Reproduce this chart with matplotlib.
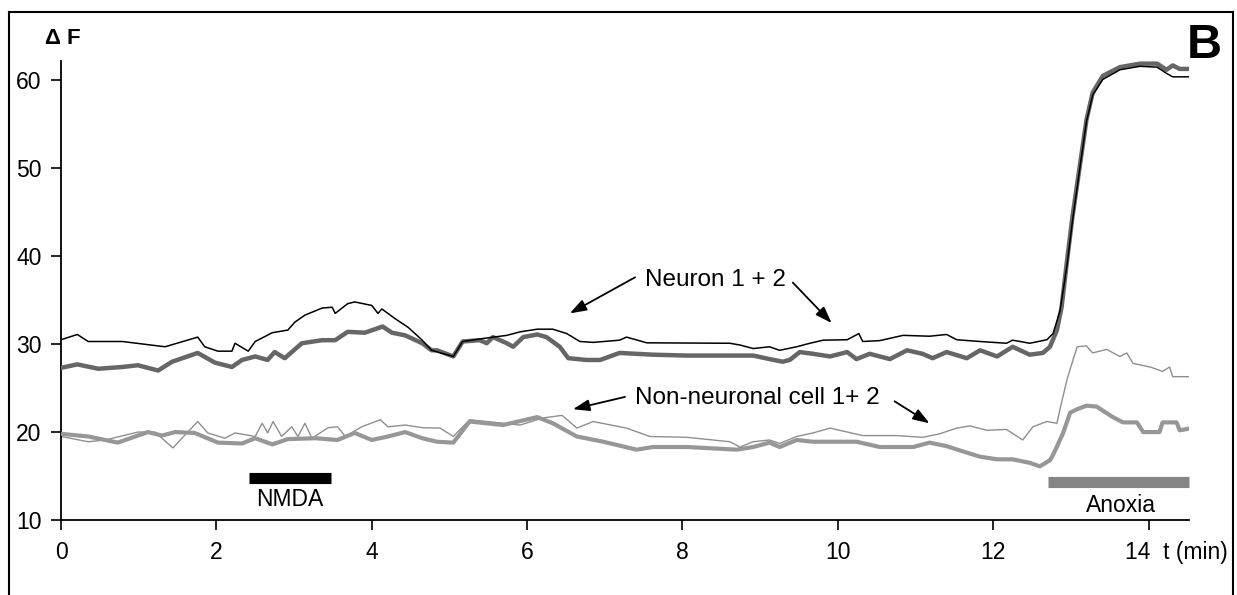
import matplotlib
matplotlib.use("Agg")
import matplotlib.pyplot as plt
from matplotlib.lines import Line2D
from matplotlib.transforms import blended_transform_factory

plt.rcParams['font.family'] = ['Liberation Sans', 'DejaVu Sans']

# ---------------- data ----------------
n1_t = [0, 0.21, 0.35, 0.79, 1.34, 1.76, 1.85, 2.02, 2.20, 2.24, 2.41, 2.50, 2.72, 2.92,
        3.01, 3.14, 3.36, 3.49, 3.53, 3.69, 3.78, 4.00, 4.08, 4.13, 4.30, 4.47, 4.65, 4.77,
        5.05, 5.17, 5.48, 5.74, 5.91, 6.13, 6.33, 6.51, 6.68, 6.85, 7.19, 7.28, 7.54, 8.61,
        8.74, 8.91, 9.12, 9.25, 9.47, 9.64, 9.81, 10.12, 10.27, 10.32, 10.54, 10.84, 11.18,
        11.40, 11.53, 11.83, 12.17, 12.25, 12.47, 12.69, 12.77, 12.86, 12.95, 13.02, 13.11,
        13.20, 13.28, 13.41, 13.63, 13.89, 14.11, 14.23, 14.31, 14.53]
n1_v = [30.5, 31.1, 30.3, 30.3, 29.7, 30.8, 29.7, 29.2, 29.2, 30.1, 29.2, 30.3, 31.3, 31.6,
        32.5, 33.3, 34.1, 34.2, 33.5, 34.6, 34.8, 34.4, 33.5, 34.0, 32.9, 31.9, 30.45, 29.3,
        28.6, 30.3, 30.7, 31.0, 31.4, 31.7, 31.7, 31.2, 30.3, 30.2, 30.45, 30.8, 30.15, 30.1,
        29.9, 29.5, 29.7, 29.3, 29.7, 30.1, 30.45, 30.5, 31.2, 30.3, 30.4, 31.0, 30.9,
        31.1, 30.5, 30.3, 30.1, 30.45, 30.1, 30.5, 31.2, 33.8, 39.0, 44.0, 49.7,
        55.3, 58.3, 60.1, 61.2, 61.6, 61.5, 60.8, 60.4, 60.4]

n2_t = [0, 0.21, 0.48, 0.79, 0.99, 1.25, 1.43, 1.76, 1.98, 2.20, 2.33, 2.50, 2.66, 2.75,
        2.88, 3.10, 3.36, 3.53, 3.69, 3.91, 4.14, 4.26, 4.43, 4.65, 4.77, 4.84, 5.05, 5.17,
        5.39, 5.48, 5.56, 5.74, 5.82, 5.95, 6.13, 6.25, 6.42, 6.53, 6.77, 6.94, 7.19, 7.62,
        8.06, 8.91, 9.12, 9.29, 9.38, 9.51, 9.68, 9.90, 10.12, 10.24, 10.41, 10.67, 10.89,
        11.09, 11.22, 11.40, 11.66, 11.83, 12.05, 12.25, 12.47, 12.64, 12.73, 12.82, 12.88,
        12.95, 13.02, 13.11, 13.20, 13.28, 13.41, 13.63, 13.89, 14.11, 14.23, 14.31, 14.40, 14.53]
n2_v = [27.3, 27.7, 27.2, 27.4, 27.6, 27.0, 28.0, 29.0, 27.9, 27.4, 28.2, 28.6, 28.2, 29.1,
        28.4, 30.1, 30.45, 30.45, 31.4, 31.3, 32.0, 31.3, 31.0, 30.1, 29.3, 29.3, 28.6, 30.3,
        30.45, 30.1, 30.8, 30.1, 29.7, 30.8, 31.1, 30.8, 29.7, 28.4, 28.2, 28.2, 29.0, 28.8,
        28.7, 28.7, 28.3, 28.0, 28.2, 29.1, 28.9, 28.6, 29.1, 28.3, 28.9, 28.3, 29.3,
        28.9, 28.4, 29.1, 28.4, 29.3, 28.6, 29.7, 28.8, 29.0, 29.7, 31.6, 34.2,
        39.5, 44.5, 50.0, 55.5, 58.6, 60.5, 61.5, 61.9, 61.9, 61.2, 61.7, 61.3, 61.3]

c1_t = [0, 0.35, 0.57, 0.99, 1.21, 1.44, 1.76, 1.89, 2.11, 2.24, 2.50, 2.59, 2.66, 2.73,
        2.84, 2.97, 3.05, 3.14, 3.23, 3.44, 3.56, 3.66, 3.87, 4.11, 4.21, 4.43, 4.65, 4.88,
        5.05, 5.26, 5.91, 6.20, 6.45, 6.64, 6.85, 7.28, 7.58, 8.06, 8.61, 8.74, 8.91, 9.12,
        9.25, 9.47, 9.68, 9.90, 10.32, 10.76, 11.09, 11.31, 11.53, 11.70, 11.92, 12.17,
        12.38, 12.51, 12.69, 12.82, 12.86, 12.95, 13.08, 13.20, 13.28, 13.46, 13.63, 13.72,
        13.80, 14.02, 14.18, 14.27, 14.31, 14.53]
c1_v = [19.5, 18.9, 19.1, 20.0, 20.0, 18.2, 21.2, 19.9, 19.3, 19.9, 19.5, 21.0, 19.9, 21.2,
        19.5, 20.6, 19.5, 21.0, 19.3, 20.5, 20.6, 19.5, 20.6, 21.4, 20.6, 20.8, 20.5, 20.45,
        19.5, 21.4, 20.8, 21.6, 21.9, 20.45, 21.2, 20.45, 19.5, 19.4, 18.9, 18.3, 18.9, 19.1,
        18.7, 19.5, 19.9, 20.45, 19.6, 19.6, 19.4, 19.8, 20.45, 20.7, 20.2, 20.3,
        19.1, 20.6, 21.2, 21.0, 22.6, 26.0, 29.7, 29.8, 29.0, 29.4, 28.6, 29.0,
        27.8, 27.4, 26.9, 27.4, 26.3, 26.3]

c2_t = [0, 0.35, 0.73, 1.12, 1.30, 1.47, 1.72, 2.02, 2.33, 2.50, 2.72, 2.92, 3.27, 3.56,
        3.78, 4.00, 4.21, 4.43, 4.65, 4.84, 5.05, 5.26, 5.69, 6.13, 6.33, 6.64, 6.98, 7.41,
        7.62, 8.06, 8.70, 8.91, 9.12, 9.25, 9.47, 9.68, 9.90, 10.24, 10.54, 10.97, 11.18,
        11.40, 11.61, 11.83, 12.05, 12.25, 12.47, 12.60, 12.73, 12.77, 12.90, 12.99, 13.08,
        13.20, 13.33, 13.54, 13.67, 13.85, 13.93, 14.14, 14.18, 14.36, 14.40, 14.53]
c2_v = [19.8, 19.5, 18.8, 20.0, 19.6, 20.0, 19.9, 18.8, 18.7, 19.3, 18.6, 19.2, 19.3, 19.1,
        19.9, 19.1, 19.5, 20.0, 19.3, 18.9, 18.8, 21.2, 20.8, 21.7, 21.0, 19.5, 18.9, 18.0,
        18.3, 18.3, 18.0, 18.3, 18.8, 18.3, 19.1, 18.9, 18.9, 18.9, 18.3, 18.3, 18.8,
        18.4, 17.8, 17.2, 16.9, 16.9, 16.5, 16.1, 16.8, 17.4, 19.9, 22.2, 22.6,
        23.0, 22.9, 21.7, 21.1, 21.1, 20.0, 20.0, 21.1, 21.1, 20.2, 20.4]

x_ticks = [0, 2, 4, 6, 8, 10, 12, 14]
x_tick_labels = ['0', '2', '4', '6', '8', '10', '12', '']
y_ticks = [10, 20, 30, 40, 50, 60]

nmda_span = (2.42, 3.48)
anoxia_span = (12.70, 14.52)

# ---------------- figure ----------------
W, H = 1237, 595
fig = plt.figure(figsize=(W / 100, H / 100), dpi=100)
fig.patch.set_facecolor('white')

def fx(px):
    return px / W

def fy(py):
    return 1 - py / H

ax = fig.add_axes([fx(61), fy(520), fx(1189) - fx(61), fy(61) - fy(520)])
ax.set_xlim(0, 14.52)
ax.set_ylim(10, 62.2)
ax.set_facecolor('none')
for s in ['top', 'right']:
    ax.spines[s].set_visible(False)
for s in ['left', 'bottom']:
    ax.spines[s].set_linewidth(1.3)
    ax.spines[s].set_color('black')

ax.set_xticks(x_ticks)
ax.set_xticklabels(x_tick_labels)
ax.set_yticks(y_ticks)
ax.tick_params(axis='both', direction='out', length=7, width=1.2, labelsize=16.5,
               colors='black')
ax.tick_params(axis='y', pad=7)
ax.tick_params(axis='x', pad=8)

# traces
ax.plot(c1_t, c1_v, color='#8f8f8f', lw=1.0, zorder=2)
ax.plot(c2_t, c2_v, color='#979797', lw=3.0, zorder=3)
ax.plot(n1_t, n1_v, color='black', lw=1.1, zorder=4)
ax.plot(n2_t, n2_v, color='#666666', lw=3.2, zorder=3)

# stimulus bars
ax.plot(nmda_span, [14.8, 14.8], color='black', lw=8, solid_capstyle='butt', zorder=5)
ax.text(sum(nmda_span) / 2, 12.3, 'NMDA', ha='center', va='center', fontsize=16.5)
ax.plot(anoxia_span, [14.3, 14.3], color='#858585', lw=8, solid_capstyle='butt',
        zorder=5, clip_on=False)
ax.text(13.65, 11.7, 'Anoxia', ha='center', va='center', fontsize=16.5)

# annotations
ax.text(8.43, 37.3, 'Neuron 1 + 2', ha='center', va='center', fontsize=17.5)
ax.text(8.96, 23.9, 'Non-neuronal cell 1+ 2', ha='center', va='center', fontsize=17.5)
arrow_kw = dict(arrowstyle='-|>,head_length=1.0,head_width=0.35', color='black', lw=1.3,
                shrinkA=0, shrinkB=0)
ax.annotate('', xy=(6.55, 33.5), xytext=(7.39, 37.6), arrowprops=arrow_kw)
ax.annotate('', xy=(9.92, 32.4), xytext=(9.42, 37.0), arrowprops=arrow_kw)
ax.annotate('', xy=(6.59, 22.6), xytext=(7.26, 24.0), arrowprops=arrow_kw)
ax.annotate('', xy=(11.18, 21.0), xytext=(10.73, 23.5), arrowprops=arrow_kw)

# 14 t (min) label
trans = blended_transform_factory(ax.transData, fig.transFigure)
ax.text(13.70, fy(553), '14  t (min)', transform=trans, ha='left', va='center',
        fontsize=16.5)

# axis title and panel letter
fig.text(fx(45), fy(38), '\u0394 F', ha='left', va='center', fontsize=16,
         fontweight='bold')
fig.text(fx(1204), fy(45), 'B', ha='center', va='center', fontsize=35,
         fontweight='bold')

# outer frame (bottom edge lies outside the image)
frame_kw = dict(color='black', lw=1.5, transform=fig.transFigure)
fig.add_artist(Line2D([fx(9), fx(9)], [fy(12), -0.1], **frame_kw))
fig.add_artist(Line2D([fx(9), fx(1233)], [fy(12), fy(12)], **frame_kw))
fig.add_artist(Line2D([fx(1233), fx(1233)], [fy(12), -0.1], **frame_kw))

fig.savefig('out.png', dpi=100, facecolor='white')
